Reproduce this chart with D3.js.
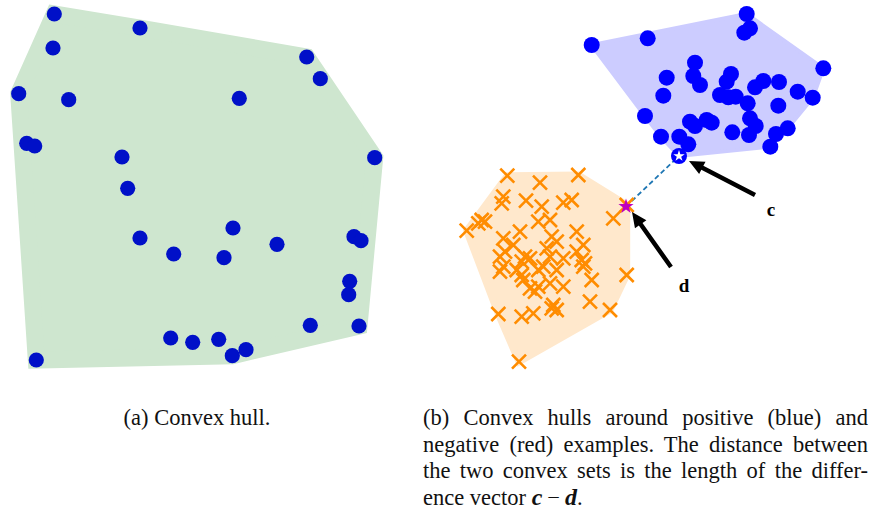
<!DOCTYPE html>
<html><head><meta charset="utf-8">
<script src="https://cdn.jsdelivr.net/npm/d3@7"></script>
<style>html,body{margin:0;padding:0;background:#fff;}svg{display:block;}</style>
</head><body>
<svg id="chart" width="872" height="518"></svg>
<script>
// ---- Data (panel units) ----
const pointsA = [
 [5.43,36.6],[14.0,35.2],[5.3,33.2],[1.87,28.63],[6.87,28.03],[23.93,28.17],[30.67,32.3],[32.03,30.13],
 [2.67,23.67],[3.47,23.4],[12.2,22.3],[12.77,19.17],[37.47,22.23],[23.3,15.2],[14.0,14.2],[17.37,12.6],
 [22.4,12.23],[27.7,13.57],[35.4,14.33],[36.1,13.93],[34.97,9.87],[34.87,8.53],[31.03,5.47],[35.9,5.4],
 [17.07,4.2],[19.27,3.77],[21.87,4.07],[24.6,3.03],[23.23,2.43],[3.63,2.0]
];
const positives = [
 [29.67,36.6],[30.0,35.17],[29.43,34.73],[14.17,33.5],[19.77,34.17],[37.33,31.17],[24.5,31.73],[21.67,30.23],
 [24.33,30.4],[25.0,29.5],[21.33,28.43],[19.5,26.4],[24.0,25.83],[24.5,25.4],[25.67,26.0],[26.17,25.73],
 [21.1,24.33],[22.93,24.33],[23.83,23.57],[28.1,30.6],[27.67,29.83],[31.33,29.9],[30.5,29.27],[32.9,29.8],
 [34.77,28.83],[36.27,28.23],[32.83,27.43],[27.0,28.5],[27.83,28.27],[28.57,28.33],[29.77,27.67],[30.0,26.17],
 [30.57,25.4],[29.9,24.5],[28.23,24.77],[33.77,25.17],[32.6,24.6],[32.03,23.33]
];
const negatives = [
 [5.73,20.43],[12.83,20.5],[9.0,19.73],[5.33,18.33],[5.17,17.67],[7.6,17.93],[9.17,17.33],[11.33,17.73],
 [12.17,18.0],[16.33,16.17],[17.67,17.5],[3.17,16.0],[3.5,15.83],[2.83,15.67],[1.67,14.93],[8.83,15.83],
 [10.0,16.0],[7.0,14.83],[12.67,14.83],[5.33,14.17],[6.33,13.5],[10.17,14.33],[10.67,13.83],[13.33,13.5],
 [12.67,12.83],[5.0,12.33],[5.5,12.83],[7.5,12.33],[7.17,11.83],[8.0,12.17],[9.67,13.17],[10.0,12.33],
 [11.33,12.17],[13.17,12.0],[13.5,11.67],[13.33,11.33],[5.0,10.83],[5.33,11.33],[6.67,11.0],[7.17,10.5],
 [8.83,11.0],[9.33,11.33],[10.67,11.0],[7.33,10.0],[8.0,9.17],[8.5,8.83],[8.83,9.33],[11.33,9.33],
 [10.0,9.67],[14.17,10.0],[17.67,10.5],[14.0,7.83],[10.33,7.5],[10.67,7.0],[10.17,7.17],[4.83,6.6],
 [7.17,6.33],[8.33,6.67],[16.0,7.0],[6.9,1.83]
];
const pointC = [22.9,22.4];
const pointD = [17.6,17.35];
const arrows = [
 {label:"c", tail:[30.5,18.5], tip:[23.9,21.9], text:[32.1,17.1]},
 {label:"d", tail:[22.1,11.3], tip:[18.2,16.8], text:[23.4,9.5]}
];
const captionA = "(a) Convex hull.";
const captionB = [
 "(b) Convex hulls around positive (blue) and",
 "negative (red) examples. The distance between",
 "the two convex sets is the length of the differ-"
];

// ---- Scales ----
const xA = d3.scaleLinear().domain([0,40]).range([0,400]);
const yA = d3.scaleLinear().domain([0,38]).range([380,0]);
const xB = d3.scaleLinear().domain([0,40]).range([450,850]);
const yB = d3.scaleLinear().domain([0,38]).range([380,0]);

const svg = d3.select("#chart");

// ---- Panel (a) ----
const gA = svg.append("g");
const hullA = d3.polygonHull(pointsA.map(p=>[xA(p[0]),yA(p[1])]));
gA.append("path").attr("d","M"+hullA.join("L")+"Z")
  .attr("fill","#cee6cf").attr("stroke","#cee6cf").attr("stroke-width",17)
  .attr("stroke-linejoin","miter");
gA.selectAll("circle").data(pointsA).join("circle")
  .attr("cx",d=>xA(d[0])).attr("cy",d=>yA(d[1])).attr("r",7.6).attr("fill","#0010c8");

// ---- Panel (b) ----
const gB = svg.append("g");
const hullPos = d3.polygonHull(positives.concat([pointC]).map(p=>[xB(p[0]),yB(p[1])]));
gB.append("path").attr("d","M"+hullPos.join("L")+"Z")
  .attr("fill","#ccccff").attr("stroke","#ccccff").attr("stroke-width",4).attr("stroke-linejoin","miter");
const hullNeg = d3.polygonHull(negatives.map(p=>[xB(p[0]),yB(p[1])]));
gB.append("path").attr("d","M"+hullNeg.join("L")+"Z")
  .attr("fill","#ffe8cc").attr("stroke","#ffe8cc").attr("stroke-width",7).attr("stroke-linejoin","miter");

// dashed connection
gB.append("line").attr("x1",xB(pointD[0])).attr("y1",yB(pointD[1]))
  .attr("x2",xB(pointC[0])).attr("y2",yB(pointC[1]))
  .attr("stroke","#1f77b4").attr("stroke-width",1.8).attr("stroke-dasharray","5,3");

// crosses
const h = 7;
gB.selectAll("path.cross").data(negatives).join("path").attr("class","cross")
  .attr("d",d=>{const x=xB(d[0]),y=yB(d[1]);return `M${x-h},${y-h}L${x+h},${y+h}M${x-h},${y+h}L${x+h},${y-h}`;})
  .attr("stroke","#ff8c00").attr("stroke-width",2.6).attr("fill","none");

// positives
gB.selectAll("circle.pos").data(positives).join("circle").attr("class","pos")
  .attr("cx",d=>xB(d[0])).attr("cy",d=>yB(d[1])).attr("r",8).attr("fill","#0000ff");

// c marker
gB.append("circle").attr("cx",xB(pointC[0])).attr("cy",yB(pointC[1])).attr("r",8).attr("fill","#0000ff");
gB.append("path").attr("d",d3.symbol(d3.symbolStar, 6*6/0.8908)())
  .attr("transform",`translate(${xB(pointC[0])},${yB(pointC[1])})`).attr("fill","#fff");
// d marker
gB.append("path").attr("d",d3.symbol(d3.symbolStar, 8*8/0.8908)())
  .attr("transform",`translate(${xB(pointD[0])},${yB(pointD[1])})`).attr("fill","#bf00bf");

// arrows
arrows.forEach(a=>{
  const tx=xB(a.tail[0]),ty=yB(a.tail[1]),px=xB(a.tip[0]),py=yB(a.tip[1]);
  const L=Math.hypot(px-tx,py-ty), ux=(px-tx)/L, uy=(py-ty)/L, nx=-uy, ny=ux;
  const sw=4.5, hl=15, hw=14;
  const bx=px-ux*hl, by=py-uy*hl;
  const pts=[[tx+nx*sw/2,ty+ny*sw/2],[bx+nx*sw/2,by+ny*sw/2],[bx+nx*hw/2,by+ny*hw/2],[px,py],
             [bx-nx*hw/2,by-ny*hw/2],[bx-nx*sw/2,by-ny*sw/2],[tx-nx*sw/2,ty-ny*sw/2]];
  gB.append("path").attr("d","M"+pts.join("L")+"Z").attr("fill","#000");
  gB.append("text").attr("x",xB(a.text[0])).attr("y",yB(a.text[1]))
    .attr("text-anchor","middle").attr("dominant-baseline","central")
    .attr("font-family","Liberation Serif, serif").attr("font-weight","bold").attr("font-size",19)
    .text(a.label);
});

// ---- Captions ----
const cap = svg.append("g").attr("font-family","Liberation Serif, serif").attr("font-size",22.5).attr("fill","#111");
cap.append("text").attr("x",197).attr("y",425).attr("text-anchor","middle").text(captionA);
captionB.forEach((s,i)=>{
  const t = cap.append("text").attr("x",423).attr("y",425+i*26.5).text(s);
  const w = t.node().getComputedTextLength();
  const spaces = (s.match(/ /g)||[]).length;
  t.attr("word-spacing", (445 - w)/spaces);
});
const last = cap.append("text").attr("x",423).attr("y",425+3*26.5);
last.append("tspan").text("ence vector ");
last.append("tspan").attr("font-style","italic").attr("font-weight","bold").attr("font-size",24).text("c");
last.append("tspan").attr("dx",5).text("−");
last.append("tspan").attr("dx",5).attr("font-style","italic").attr("font-weight","bold").attr("font-size",24).text("d");
last.append("tspan").text(".");
</script>
</body></html>
